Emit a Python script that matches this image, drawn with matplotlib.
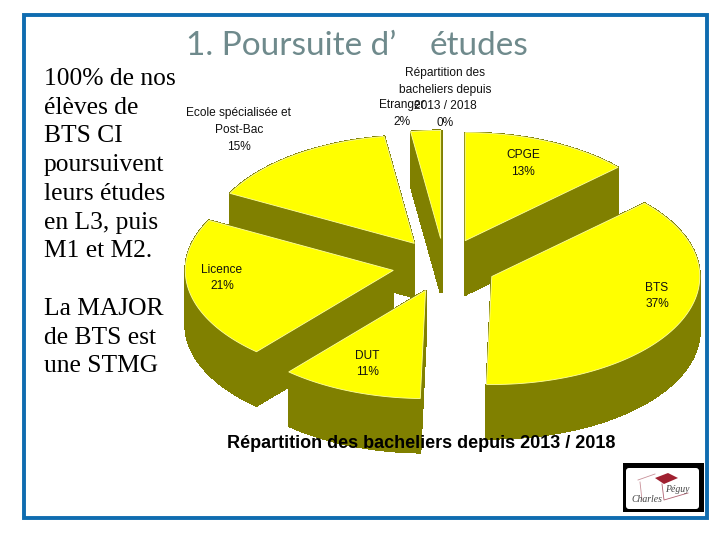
import numpy as np
import matplotlib
matplotlib.use("Agg")
import matplotlib.pyplot as plt
from matplotlib.patches import Polygon, Rectangle, FancyBboxPatch
from matplotlib.collections import PolyCollection

# data
categories = ["CPGE", "BTS", "DUT", "Licence", "Ecole spécialisée et\nPost-Bac", "Etranger",
              "Répartition des\nbacheliers depuis\n2013 / 2018"]
values = [13.1, 37.2, 11.0, 21.2, 15.0, 2.3, 0.0]
label_x = [523, 657, 367, 222, 239, 402, 445]
label_y = [163.5, 296, 364, 278, 130, 113.5, 98]

left_text_1 = ["100% de nos", "élèves de", "BTS CI", "poursuivent", "leurs études", "en L3, puis", "M1 et M2."]
left_text_2 = ["La MAJOR", "de BTS est", "une STMG"]

# pie geometry in pixels
cx, cy = 444.4, 265.4
rx, ry = 208, 108
explode = 52
depth = 54
top_color = "#ffff00"
wall_color = "#808000"


def slice_points(start, end):
    mid = np.radians((start + end) / 2)
    ax0 = cx + explode * np.sin(mid)
    ay0 = cy - explode * ry / rx * np.cos(mid)
    t = np.radians(np.linspace(start, end, 80))
    xs = np.r_[ax0, ax0 + rx * np.sin(t)]
    ys = np.r_[ay0, ay0 - ry * np.cos(t)]
    return xs, ys, ay0


fig = plt.figure(figsize=(7.2, 5.4), dpi=100)
ax = fig.add_axes([0, 0, 1, 1])
ax.set_xlim(0, 720)
ax.set_ylim(540, 0)
ax.axis("off")

# frame
ax.add_patch(Rectangle((24, 15), 683, 503, fill=False, ec="#0f6cb0", lw=2.8))

# slices, back to front
angles = np.cumsum([0] + values) / sum(values) * 360
slices = []
for i, v in enumerate(values):
    if v > 0:
        slices.append(slice_points(angles[i], angles[i + 1]))
slices.sort(key=lambda s: s[2])

for xs, ys, _ in slices:
    quads = []
    n = len(xs)
    for j in range(n):
        k = (j + 1) % n
        quads.append([(xs[j], ys[j]), (xs[k], ys[k]), (xs[k], ys[k] + depth), (xs[j], ys[j] + depth)])
    ax.add_collection(PolyCollection(quads, facecolors=wall_color, edgecolors=wall_color, linewidths=0.8,
                                     antialiaseds=False))
    ax.add_patch(Polygon(np.c_[xs, ys], closed=True, fc=top_color, ec="#ffffa0", lw=0.6))

# slice labels
for i, name in enumerate(categories):
    ax.text(label_x[i], label_y[i], "{}\n{:.0f}%".format(name, values[i]), ha="center", va="center",
            fontsize=8.6, family="Liberation Sans", color="#111111", linespacing=1.52)

ax.text(421.5, 443, "Répartition des bacheliers depuis 2013 / 2018", ha="center", va="center",
        fontsize=13, fontweight="bold", family="Liberation Sans", color="black")

# title
ax.text(186, 46, "1. Poursuite d’", ha="left", va="center", fontsize=24, family="Lato", color="#6f8a8c")
ax.text(430, 46, "études", ha="left", va="center", fontsize=24, family="Lato", color="#6f8a8c")

# left text
for i, line in enumerate(left_text_1):
    ax.text(44, 79 + i * 28.7, line, ha="left", va="center", fontsize=18.4, family="Liberation Serif", color="black")
for i, line in enumerate(left_text_2):
    ax.text(44, 309 + i * 28.7, line, ha="left", va="center", fontsize=18.4, family="Liberation Serif", color="black")

# logo
ax.add_patch(Rectangle((623, 463), 81, 49, fc="black", ec="none"))
ax.add_patch(FancyBboxPatch((626, 468), 73, 41, boxstyle="round,pad=0,rounding_size=3", fc="white", ec="none"))
ax.add_patch(Polygon([(655, 478), (668, 473), (678, 478), (664, 484)], closed=True, fc="#a02030", ec="none"))
ax.plot([638, 655], [480, 474], color="#c89098", lw=0.6)
ax.plot([662, 664, 688], [484, 500, 493], color="#b06070", lw=0.6)
ax.plot([640, 642], [482, 500], color="#c89098", lw=0.6)
ax.text(647, 499, "Charles", ha="center", va="center", fontsize=7, family="Liberation Serif",
        style="italic", color="#444444")
ax.text(677, 490, "Péguy", ha="center", va="center", fontsize=7, family="Liberation Serif",
        style="italic", color="#444444")

plt.savefig("out.png", dpi=100)
